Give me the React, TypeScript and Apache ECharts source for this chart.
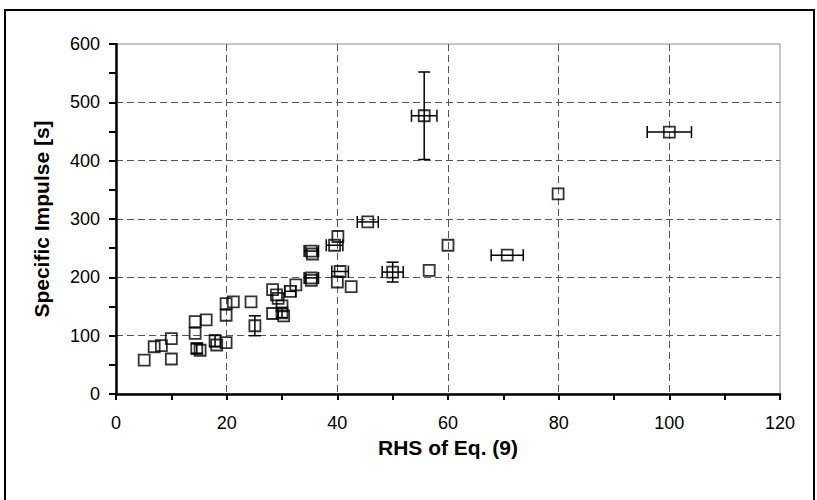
import React, { useEffect, useRef } from "react";
import * as echarts from "echarts";

// RHS of Eq. (9) values (x)
const rhsValues = [
  5.1, 6.9, 8.2, 10, 10, 14.3, 14.3, 14.6, 15.2, 16.3, 17.9, 18.2, 19.9, 19.9, 19.9,
  21.2, 24.4, 25.1, 28.3, 28.3, 29, 29.3, 30, 30, 30.3, 31.5, 32.5, 35.3, 35.3, 35.3,
  35.5, 39.5, 40.1, 40.5, 40, 42.5, 45.5, 50, 56.6, 60, 55.7, 70.7, 79.9, 100,
];
// Specific impulse values (y)
const impulseValues = [
  58, 81, 83, 95, 60, 124, 104, 78, 75, 127, 91, 84, 88, 155, 135,
  158, 158, 117, 179, 138, 170, 164, 151, 139, 134, 176, 187, 199, 195, 245,
  240, 255, 270, 210, 192, 184, 295, 209, 212, 255, 477, 238, 343, 449,
];
// Horizontal error half-widths
const rhsErrors = [
  0, 0, 0, 0, 0, 0, 0, 0, 0, 0, 0, 0, 0, 0, 0,
  0, 0, 0, 0, 0, 0, 0, 0, 0, 0, 1, 0, 1.3, 0, 1.3,
  0, 1.5, 0, 1.5, 0, 0, 1.9, 1.9, 0, 0, 2.3, 2.9, 0, 4,
];
// Vertical error half-heights
const impulseErrors = [
  0, 0, 0, 0, 0, 0, 0, 8, 0, 0, 10, 0, 0, 0, 0,
  0, 0, 17, 0, 0, 0, 0, 0, 8, 0, 0, 0, 0, 0, 0,
  0, 0, 0, 0, 0, 0, 0, 17, 0, 0, 75, 0, 0, 0,
];

const xTicks = { min: 0, max: 120, interval: 20 };
const yTicks = { min: 0, max: 600, interval: 100 };

export default function App() {
  const ref = useRef<HTMLDivElement>(null);
  useEffect(() => {
    if (!ref.current) return;
    const chart = echarts.init(ref.current, null, { renderer: "svg" });
    const points = rhsValues.map((x, i) => [x, impulseValues[i]]);
    const errRows = rhsValues.map((x, i) => [x, impulseValues[i], rhsErrors[i], impulseErrors[i]]);
    const font = "'Liberation Sans', Arial, sans-serif";
    const cap = 6;
    const lineStyle = { stroke: "#000", lineWidth: 1.5 };
    chart.setOption({
      animation: false,
      backgroundColor: "#fff",
      grid: {
        left: 116,
        right: 37,
        top: 44,
        bottom: 106,
        show: true,
        borderColor: "#8c8c8c",
        borderWidth: 1,
        backgroundColor: "transparent",
      },
      graphic: [
        {
          type: "rect",
          shape: { x: 5, y: 10, width: 809, height: 520 },
          style: { fill: "none", stroke: "#000", lineWidth: 2 },
          silent: true,
          z: -1,
        },
      ],
      xAxis: {
        type: "value",
        min: xTicks.min,
        max: xTicks.max,
        interval: xTicks.interval,
        name: "RHS of Eq. (9)",
        nameLocation: "middle",
        nameGap: 37,
        nameTextStyle: { fontFamily: font, fontSize: 21, fontWeight: "bold", color: "#000" },
        axisLine: { show: true, onZero: false, lineStyle: { color: "#000", width: 2.5 } },
        axisTick: { show: true, length: 6, lineStyle: { color: "#000", width: 2 } },
        minorTick: { show: true, splitNumber: 2, length: 6, lineStyle: { color: "#000", width: 2 } },
        axisLabel: { fontFamily: font, fontSize: 18, color: "#000", margin: 20 },
        splitLine: {
          show: true,
          showMinLine: false,
          showMaxLine: false,
          lineStyle: { color: "#555", width: 1, type: [7, 4] },
        },
      },
      yAxis: {
        type: "value",
        min: yTicks.min,
        max: yTicks.max,
        interval: yTicks.interval,
        name: "Specific Impulse [s]",
        nameLocation: "middle",
        nameGap: 64,
        nameTextStyle: { fontFamily: font, fontSize: 21, fontWeight: "bold", color: "#000" },
        axisLine: { show: true, onZero: false, lineStyle: { color: "#000", width: 2.5 } },
        axisTick: { show: true, length: 7, lineStyle: { color: "#000", width: 2 } },
        minorTick: { show: true, splitNumber: 2, length: 7, lineStyle: { color: "#000", width: 2 } },
        axisLabel: { fontFamily: font, fontSize: 18, color: "#000", margin: 16 },
        splitLine: {
          show: true,
          showMinLine: false,
          showMaxLine: false,
          lineStyle: { color: "#555", width: 1, type: [7, 4] },
        },
      },
      series: [
        {
          type: "custom",
          data: errRows,
          z: 3,
          renderItem: (params: any, api: any) => {
            const x = api.value(0);
            const y = api.value(1);
            const xe = api.value(2);
            const ye = api.value(3);
            const children: any[] = [];
            if (xe > 0) {
              const l = api.coord([x - xe, y]);
              const r = api.coord([x + xe, y]);
              children.push(
                { type: "line", shape: { x1: l[0], y1: l[1], x2: r[0], y2: r[1] }, style: lineStyle },
                { type: "line", shape: { x1: l[0], y1: l[1] - cap, x2: l[0], y2: l[1] + cap }, style: lineStyle },
                { type: "line", shape: { x1: r[0], y1: r[1] - cap, x2: r[0], y2: r[1] + cap }, style: lineStyle }
              );
            }
            if (ye > 0) {
              const t = api.coord([x, y + ye]);
              const b = api.coord([x, y - ye]);
              children.push(
                { type: "line", shape: { x1: t[0], y1: t[1], x2: b[0], y2: b[1] }, style: lineStyle },
                { type: "line", shape: { x1: t[0] - cap, y1: t[1], x2: t[0] + cap, y2: t[1] }, style: lineStyle },
                { type: "line", shape: { x1: b[0] - cap, y1: b[1], x2: b[0] + cap, y2: b[1] }, style: lineStyle }
              );
            }
            return { type: "group", children };
          },
        },
        {
          type: "scatter",
          data: points,
          symbol: "rect",
          symbolSize: 11,
          z: 4,
          itemStyle: { color: "transparent", borderColor: "#000", borderWidth: 1.8 },
        },
      ],
    });
    return () => chart.dispose();
  }, []);
  return (
    <div
      ref={ref}
      style={{ position: "fixed", left: 0, top: 0, width: 817, height: 500, background: "#fff" }}
    />
  );
}
